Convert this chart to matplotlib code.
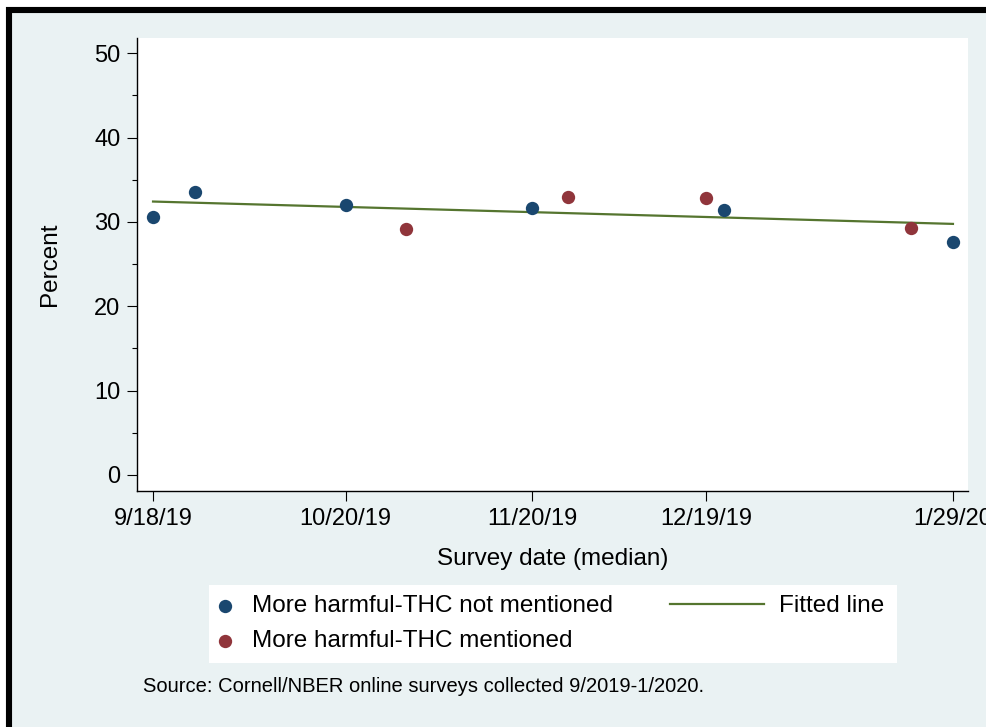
import numpy as np
import matplotlib
matplotlib.use('Agg')
import matplotlib.pyplot as plt
from matplotlib.patches import Rectangle

plt.rcParams['font.family'] = ['Liberation Sans', 'DejaVu Sans']

# survey waves, question without THC mention
dates_no_thc = ['2019-09-18', '2019-09-25', '2019-10-20', '2019-11-20', '2019-12-22', '2020-01-29']
pct_no_thc = [30.6, 33.6, 32.0, 31.6, 31.4, 27.6]

# survey waves, question with THC mention
dates_thc = ['2019-10-30', '2019-11-26', '2019-12-19', '2020-01-22']
pct_thc = [29.1, 33.0, 32.8, 29.3]

tick_dates = ['2019-09-18', '2019-10-20', '2019-11-20', '2019-12-19', '2020-01-29']
tick_labels = ['9/18/19', '10/20/19', '11/20/19', '12/19/19', '1/29/20']
y_ticks = [0, 10, 20, 30, 40, 50]

navy = '#1A476F'
maroon = '#90353B'
green = '#55752F'
bg = '#EAF2F3'

W, H = 987, 727  # pixel size of the figure
fig = plt.figure(figsize=(W / 100, H / 100), dpi=100)
fig.patch.set_facecolor('white')

# light graph region with a heavy black frame (left and top edges)
fig.add_artist(Rectangle((9 / W, -0.2), 1.5, 1 - 10 / H + 0.2, transform=fig.transFigure,
                         facecolor=bg, edgecolor='black', linewidth=4.4, zorder=-10))

ax = fig.add_axes([137 / W, 236 / H, 831 / W, 453 / H])
ax.set_facecolor('white')

d_no = np.array(dates_no_thc, dtype='datetime64[D]')
d_yes = np.array(dates_thc, dtype='datetime64[D]')

ax.scatter(d_no, pct_no_thc, s=92, color=navy, linewidths=0, zorder=3,
           label='More harmful-THC not mentioned')
ax.scatter(d_yes, pct_thc, s=92, color=maroon, linewidths=0, zorder=3,
           label='More harmful-THC mentioned')

# linear fit over all waves
all_d = np.concatenate([d_no, d_yes])
all_p = np.concatenate([pct_no_thc, pct_thc])
t0 = all_d.min()
days = (all_d - t0).astype(int)
b, a = np.polyfit(days, all_p, 1)
fit_x = np.array([0, days.max()])
fit_d = t0 + fit_x.astype('timedelta64[D]')
ax.plot(fit_d, a + b * fit_x, color=green, linewidth=1.6, zorder=2, label='Fitted line')

# axes range
ax.set_xlim(np.datetime64('2019-09-18') - np.timedelta64(64, 'h'),
            np.datetime64('2020-01-29') + np.timedelta64(60, 'h'))
ax.set_ylim(-1.9, 51.8)

ax.set_xticks(np.array(tick_dates, dtype='datetime64[D]'))
ax.set_xticklabels(tick_labels)
ax.set_yticks(y_ticks)
ax.set_yticks(np.arange(5, 50, 10), minor=True)

for s in ['top', 'right']:
    ax.spines[s].set_visible(False)
for s in ['left', 'bottom']:
    ax.spines[s].set_linewidth(1.0)

ax.tick_params(axis='both', which='major', length=7, width=0.8, labelsize=17, pad=5)
ax.tick_params(axis='y', which='minor', length=3.5, width=0.8)

ax.set_xlabel('Survey date (median)', fontsize=17.5, labelpad=13)
ax.set_ylabel('Percent', fontsize=17.5)
ax.yaxis.set_label_coords(-0.091, 0.5)

# legend: white box with two separate columns
fig.add_artist(Rectangle((209 / W, 64 / H), 688 / W, 78 / H, transform=fig.transFigure,
                         facecolor='white', edgecolor='none', zorder=1))
h, l = ax.get_legend_handles_labels()
leg1 = fig.legend(h[:2], l[:2], loc='upper left', bbox_to_anchor=(216 / W, 1 - 595 / H),
                  frameon=False, fontsize=17.5, handlelength=0.75, handletextpad=0.75,
                  labelspacing=0.55, borderpad=0, borderaxespad=0, markerscale=1.0)
leg2 = fig.legend(h[2:], l[2:], loc='upper left', bbox_to_anchor=(670 / W, 1 - 595 / H),
                  frameon=False, fontsize=17.5, handlelength=3.85, handletextpad=0.62,
                  borderpad=0, borderaxespad=0)

fig.text(143 / W, 1 - 687 / H, 'Source: Cornell/NBER online surveys collected 9/2019-1/2020.',
         fontsize=14.5, va='center', ha='left')

fig.savefig('out.png', dpi=100)
